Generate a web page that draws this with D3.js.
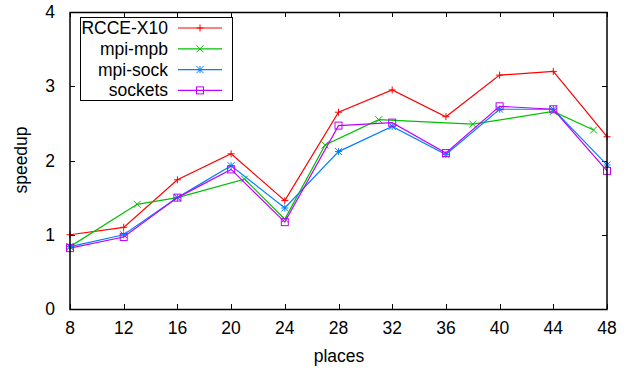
<!DOCTYPE html>
<html>
<head>
<meta charset="utf-8">
<script src="https://cdn.jsdelivr.net/npm/d3@7"></script>
<style>
    body { margin: 0; background: #fff; }
    svg text { font-family: "Liberation Sans", Arial, sans-serif; font-size: 17.5px; fill: #000; }
</style>
</head>
<body>
<svg id="chart" width="634" height="371"></svg>
<script>
// places
let xTicks = [8, 12, 16, 20, 24, 28, 32, 36, 40, 44, 48];
let yTicks = [0, 1, 2, 3, 4];

let rcceX = [8, 12, 16, 20, 24, 28, 32, 36, 40, 44, 48];
let rcceY = [1.00, 1.10, 1.74, 2.09, 1.46, 2.65, 2.95, 2.59, 3.15, 3.20, 2.32];

let mpbX = [8, 13, 16, 21, 24, 27, 31, 38, 44, 47];
let mpbY = [0.84, 1.41, 1.50, 1.75, 1.21, 2.21, 2.55, 2.49, 2.66, 2.41];

let sockX = [8, 12, 16, 20, 24, 28, 32, 36, 40, 44, 48];
let sockY = [0.84, 1.00, 1.50, 1.93, 1.36, 2.12, 2.46, 2.08, 2.69, 2.69, 1.94];

let socketsX = [8, 12, 16, 20, 24, 28, 32, 36, 40, 44, 48];
let socketsY = [0.82, 0.97, 1.50, 1.88, 1.17, 2.47, 2.51, 2.10, 2.73, 2.69, 1.86];

let seriesNames = ["RCCE-X10", "mpi-mpb", "mpi-sock", "sockets"];
let seriesColors = ["#ff0000", "#00c000", "#0080ff", "#c000ff"];
let seriesMarks = ["plus", "cross", "star", "square"];

let series = [
    {x: rcceX, y: rcceY},
    {x: mpbX, y: mpbY},
    {x: sockX, y: sockY},
    {x: socketsX, y: socketsY}
];

let plotLeft = 70, plotRight = 607, plotTop = 12, plotBottom = 309;
let svg = d3.select("#chart");

let xScale = d3.scaleLinear().domain([8, 48]).range([plotLeft, plotRight]);
let yScale = d3.scaleLinear().domain([0, 4]).range([plotBottom, plotTop]);

// ticks (gnuplot style: inward, mirrored)
let tickLen = 5;
let axes = svg.append("g").attr("stroke", "#000").attr("stroke-width", 1);
xTicks.forEach(function (t) {
    let x = Math.round(xScale(t)) + 0.5;
    axes.append("line").attr("x1", x).attr("x2", x).attr("y1", plotBottom).attr("y2", plotBottom - tickLen);
    axes.append("line").attr("x1", x).attr("x2", x).attr("y1", plotTop).attr("y2", plotTop + tickLen);
});
yTicks.forEach(function (t) {
    let y = Math.round(yScale(t)) + 0.5;
    axes.append("line").attr("x1", plotLeft).attr("x2", plotLeft + tickLen).attr("y1", y).attr("y2", y);
    axes.append("line").attr("x1", plotRight).attr("x2", plotRight - tickLen).attr("y1", y).attr("y2", y);
});

svg.selectAll(".xlab").data(xTicks).enter().append("text")
    .attr("x", function (d) { return xScale(d); })
    .attr("y", 334)
    .attr("text-anchor", "middle")
    .text(function (d) { return d; });

svg.selectAll(".ylab").data(yTicks).enter().append("text")
    .attr("x", 55)
    .attr("y", function (d) { return yScale(d) + 6; })
    .attr("text-anchor", "end")
    .text(function (d) { return d; });

svg.append("text").attr("x", 339).attr("y", 362).attr("text-anchor", "middle").text("places");
svg.append("text")
    .attr("transform", "translate(27," + 160 + ") rotate(-90)")
    .attr("text-anchor", "middle")
    .text("speedup");

function drawMark(g, type, x, y, color) {
    let s = 3.5;
    if (type === "plus" || type === "star") {
        g.append("line").attr("x1", x - s).attr("x2", x + s).attr("y1", y).attr("y2", y).attr("stroke", color);
        g.append("line").attr("x1", x).attr("x2", x).attr("y1", y - s).attr("y2", y + s).attr("stroke", color);
    }
    if (type === "cross" || type === "star") {
        g.append("line").attr("x1", x - s).attr("x2", x + s).attr("y1", y - s).attr("y2", y + s).attr("stroke", color);
        g.append("line").attr("x1", x - s).attr("x2", x + s).attr("y1", y + s).attr("y2", y - s).attr("stroke", color);
    }
    if (type === "square") {
        g.append("rect").attr("x", x - s).attr("y", y - s).attr("width", 2 * s).attr("height", 2 * s)
            .attr("fill", "none").attr("stroke", color);
    }
}

let line = d3.line()
    .x(function (d) { return xScale(d[0]); })
    .y(function (d) { return yScale(d[1]); });

series.forEach(function (s, i) {
    let pts = d3.zip(s.x, s.y);
    let g = svg.append("g");
    g.append("path").attr("d", line(pts))
        .attr("fill", "none").attr("stroke", seriesColors[i]).attr("stroke-width", 1.2);
    pts.forEach(function (p) {
        drawMark(g, seriesMarks[i], xScale(p[0]), yScale(p[1]), seriesColors[i]);
    });
});

// border
svg.append("rect").attr("x", plotLeft).attr("y", plotTop + 0.5)
    .attr("width", plotRight - plotLeft).attr("height", plotBottom - plotTop)
    .attr("fill", "none").attr("stroke", "#000").attr("stroke-width", 1.5);

// legend
let legend = svg.append("g");
legend.append("rect").attr("x", 80.5).attr("y", 17.5).attr("width", 152).attr("height", 83)
    .attr("fill", "#fff").attr("stroke", "#000");
seriesNames.forEach(function (name, i) {
    let y = 28 + i * 20.8;
    legend.append("text").attr("x", 168).attr("y", y + 6).attr("text-anchor", "end").text(name);
    legend.append("line").attr("x1", 178).attr("x2", 222).attr("y1", y).attr("y2", y)
        .attr("stroke", seriesColors[i]).attr("stroke-width", 1.2);
    drawMark(legend, seriesMarks[i], 200, y, seriesColors[i]);
});
</script>
</body>
</html>
